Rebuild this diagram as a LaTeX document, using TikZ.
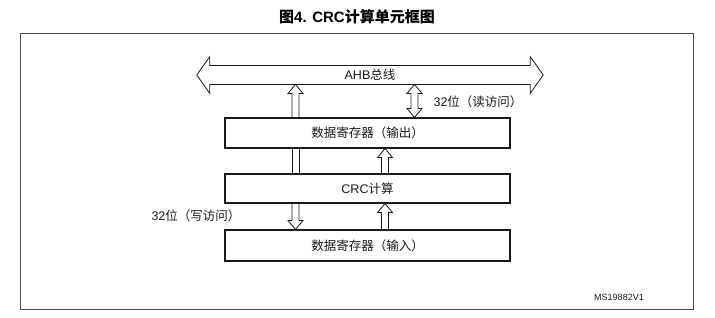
\documentclass[tikz,border=0pt]{standalone}
\usepackage{fontspec}
\setmainfont{Noto Sans CJK SC}
\newfontfamily\lat{Liberation Sans}
\usetikzlibrary{calc}

% hollow arrows: shaft half width 3.5pt, head half width 7.5pt, head length 9pt
\newcommand{\arrowup}[2]{% tail (bottom), tip (top)
  \draw[hollow] let \p1=#1, \p2=#2 in
    ({\x1-3.5pt},\y1) -- ({\x1-3.5pt},{\y2-9pt}) -- ({\x1-7.5pt},{\y2-9pt})
    -- (\x1,\y2) -- ({\x1+7.5pt},{\y2-9pt}) -- ({\x1+3.5pt},{\y2-9pt})
    -- ({\x1+3.5pt},\y1);}
\newcommand{\arrowdown}[2]{% tail (top), tip (bottom)
  \draw[hollow] let \p1=#1, \p2=#2 in
    ({\x1-3.5pt},\y1) -- ({\x1-3.5pt},{\y2+9pt}) -- ({\x1-7.5pt},{\y2+9pt})
    -- (\x1,\y2) -- ({\x1+7.5pt},{\y2+9pt}) -- ({\x1+3.5pt},{\y2+9pt})
    -- ({\x1+3.5pt},\y1);}
\newcommand{\arrowboth}[2]{% bottom tip, top tip
  \draw[hollow] let \p1=#1, \p2=#2 in
    (\x1,\y1) -- ({\x1-7.5pt},{\y1+9pt}) -- ({\x1-3.5pt},{\y1+9pt})
    -- ({\x1-3.5pt},{\y2-9pt}) -- ({\x1-7.5pt},{\y2-9pt}) -- (\x1,\y2)
    -- ({\x1+7.5pt},{\y2-9pt}) -- ({\x1+3.5pt},{\y2-9pt})
    -- ({\x1+3.5pt},{\y1+9pt}) -- ({\x1+7.5pt},{\y1+9pt}) -- cycle;}
\newcommand{\arrowshaft}[2]{%
  \draw[hollow] let \p1=#1, \p2=#2 in
    ({\x1-3.5pt},\y1) -- ({\x1-3.5pt},\y2)
    ({\x1+3.5pt},\y1) -- ({\x1+3.5pt},\y2);}

\begin{document}
\begin{tikzpicture}[x=1pt, y=-1pt,
  font=\fontsize{12.5}{15}\selectfont,
  every node/.style={text=black!90},
  blk/.style={draw=black!90, line width=1.1pt, minimum width=285pt,
              minimum height=30pt, inner sep=0pt},
  hollow/.style={draw=black!90, line width=0.8pt, line join=miter},
  bustext/.style={minimum width=320pt, minimum height=18.5pt, inner sep=0pt}]

  \useasboundingbox (0,0) rectangle (715,317);

  % frame and title
  \draw[black!70, line width=1pt] (20,33) rectangle (693,309);
  \node[font=\fontsize{15}{18}\selectfont\bfseries, text=black] (title) at (357,17)
    {图{\lat\bfseries 4. CRC}计算单元框图};
  \node[font=\lat\fontsize{9}{11}\selectfont] (ref) at (619,297) {MS19882V1};

  % bus
  \node[bustext] (ahb) at (370,75) {{\lat AHB}总线};
  \draw[hollow] let \p1=(ahb.north west), \p2=(ahb.south east) in
    (\x1,\y1) -- (\x2,\y1) -- (\x2,{\y1+9pt}) -- ({\x2+13pt},{(\y1+\y2)/2})
    -- (\x2,{\y2-9pt}) -- (\x2,\y2) -- (\x1,\y2) -- (\x1,{\y2-9pt})
    -- ({\x1-13pt},{(\y1+\y2)/2}) -- (\x1,{\y1+9pt}) -- cycle;

  % blocks
  \node[blk] (dout) at (367.5,133) {数据寄存器（输出）};
  \node[blk, minimum height=29pt] (crc) at (367.5,188.5) {{\lat CRC}计算};
  \node[blk, minimum height=31pt] (din) at (367.5,245.5) {数据寄存器（输入）};

  % columns
  \coordinate (colL) at (295.5,0);
  \coordinate (colM) at (385,0);
  \coordinate (colR) at (414.5,0);

  \arrowup{(colL |- dout.north)}{(colL |- ahb.south)}
  \arrowshaft{(colL |- crc.north)}{(colL |- dout.south)}
  \arrowdown{(colL |- crc.south)}{(colL |- din.north)}
  \arrowboth{(colR |- dout.north)}{(colR |- ahb.south)}
  \arrowup{(colM |- crc.north)}{(colM |- dout.south)}
  \arrowup{(colM |- din.north)}{(colM |- crc.south)}

  % labels
  \node (rd) at (478,102) {{\lat 32}位（读访问）};
  \node (wr) at (196,216) {{\lat 32}位（写访问）};
\end{tikzpicture}
\end{document}
